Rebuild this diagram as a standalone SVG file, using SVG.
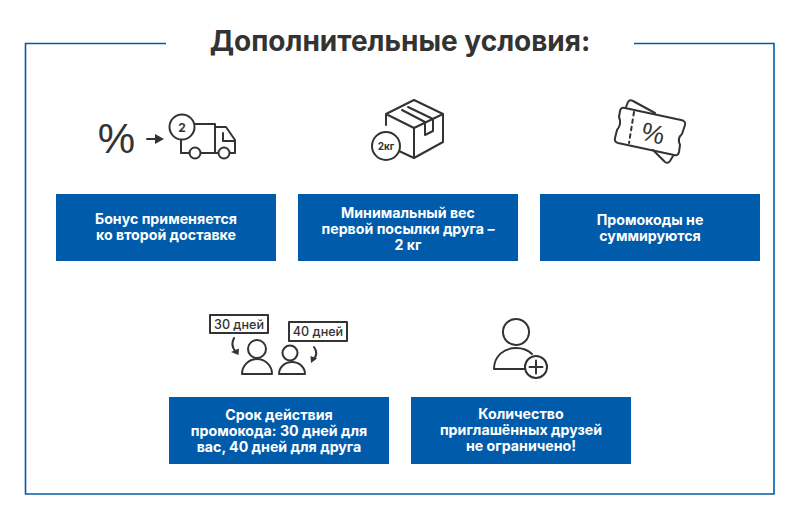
<svg xmlns="http://www.w3.org/2000/svg" width="800" height="517" viewBox="0 0 800 517">
<style>
text{font-family:"Inter","Open Sans","Liberation Sans",sans-serif}
.t{font-size:14.2px;font-weight:700;fill:#fff;text-anchor:middle}
.box{fill:#005cab}
.i{fill:none;stroke:#333;stroke-width:2;stroke-linejoin:round;stroke-linecap:round}
.g{fill:#333;text-anchor:middle}
.p{font-family:"Liberation Sans",sans-serif;font-weight:400}
</style>
<rect width="800" height="517" fill="#fff"/>
<g id="frame"><path d="M166 43.500H25.500V494H774V43.500H634" fill="none" stroke="#005cab" stroke-width="1.600"/></g>
<text id="title" x="400" y="51" font-size="28" font-weight="700" fill="#333" text-anchor="middle">Дополнительные условия:</text>
<g id="node-bonus">
<text class="g p" x="116.500" y="153" font-size="42">%</text>
<path class="i" d="M147 139H155"/><path d="M155 134L164 139L155 144Z" fill="#333"/>
<circle class="i" cx="182" cy="127" r="12.500"/>
<path class="i" d="M195 124H215V153M181 140V153H189.500M201 153H218M215 127H226L235 140V153H230M223 133V141H234"/>
<circle class="i" cx="195" cy="153" r="5.500"/><circle class="i" cx="224" cy="153" r="5.500"/>
<text class="g" x="182" y="131.500" font-size="12" font-weight="700">2</text>
<rect class="box" x="56" y="194" width="220" height="67"/>
<text class="t" x="166" y="224">Бонус применяется</text><text class="t" x="166" y="240">ко второй доставке</text>
</g>
<g id="node-weight">
<path class="i" d="M386 125V114L414 100L443 114V142L414 158L399 151M386 114L414 128L443 114M414 128V158M402 110L425 122V135L433 131V119L408 107"/>
<circle class="i" cx="386" cy="146" r="14"/>
<text class="g" x="386" y="150" font-size="10" font-weight="700">2кг</text>
<rect class="box" x="298" y="194" width="220" height="67"/>
<text class="t" x="408" y="218">Минимальный вес</text><text class="t" x="408" y="234">первой посылки друга –</text><text class="t" x="408" y="250">2 кг</text>
</g>
<g id="node-promo">
<path class="i" d="M655 113L633 101Q630 99 628 102L626 107M653 150L665 162Q668 164 670 161L673 156"/>
<path class="i" d="M625 108L681 120Q686 121 685 125L682 134Q677 138 680 145L679 152Q678 156 674 155L618 143Q614 142 615 138L617 130Q622 124 619 117L620 111Q621 107 625 108Z"/>
<path class="i" d="M634 112L629 143" stroke-dasharray="3.500 4"/>
<text class="g p" x="0" y="0" font-size="26" transform="translate(651 142) rotate(14)">%</text>
<rect class="box" x="540" y="194" width="220" height="67"/>
<text class="t" x="650" y="225">Промокоды не</text><text class="t" x="650" y="241">суммируются</text>
</g>
<g id="node-term">
<rect class="i" x="210" y="315" width="58" height="18" stroke-linejoin="miter"/>
<rect class="i" x="289" y="322" width="58" height="19"/>
<text class="g" x="239" y="329" font-size="12.600" style="font-weight:500">30 дней</text>
<text class="g" x="318" y="336" font-size="12.600" style="font-weight:500">40 дней</text>
<path class="i" d="M234 338Q230 346 236 352M314 347Q319 354 313 360" stroke-width="1.300"/>
<path d="M231 352L239 348.500L238.500 355Z M311 363L310.500 356L317 358.500Z" fill="#333"/>
<circle class="i" cx="257" cy="349" r="9"/>
<path class="i" d="M242 374A15 15 0 0 1 272 374Z"/>
<circle class="i" cx="290" cy="353" r="7.500"/>
<path class="i" d="M279 374A13 12 0 0 1 305 374Z"/>
<rect class="box" x="169" y="397" width="220" height="67"/>
<text class="t" x="279" y="420">Срок действия</text><text class="t" x="279" y="436">промокода: 30 дней для</text><text class="t" x="279" y="452">вас, 40 дней для друга</text>
</g>
<g id="node-friends">
<circle class="i" cx="516" cy="332" r="13"/>
<path class="i" d="M525 369H494C494 356 504 348 516 348C522 348 528 350 532 354"/>
<circle class="i" cx="536" cy="367" r="11"/>
<path class="i" d="M529.500 367H542.500M536 360.500V373.500" stroke-width="2.600"/>
<rect class="box" x="411" y="397" width="220" height="67"/>
<text class="t" x="521" y="419">Количество</text><text class="t" x="521" y="435">приглашённых друзей</text><text class="t" x="521" y="451">не ограничено!</text>
</g>
</svg>
